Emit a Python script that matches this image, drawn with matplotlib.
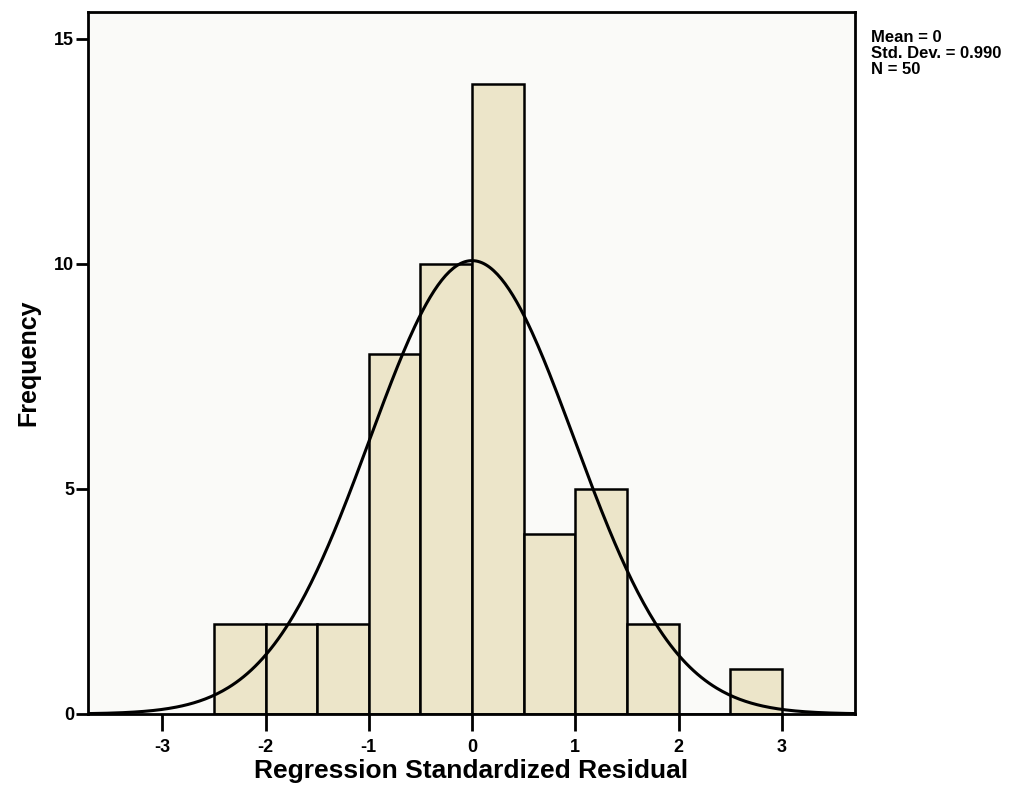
import numpy as np
import matplotlib
matplotlib.use('Agg')
import matplotlib.pyplot as plt

# histogram of residuals, bins of width 0.5
bin_edges = [-2.5, -2.0, -1.5, -1.0, -0.5, 0.0, 0.5, 1.0, 1.5, 2.0, 2.5, 3.0]
counts = [2, 2, 2, 8, 10, 14, 4, 5, 2, 0, 1]
mean = 0.0
std = 0.990
n = 50
xticks = [-3, -2, -1, 0, 1, 2, 3]
yticks = [0, 5, 10, 15]

plt.rcParams['font.family'] = ['Liberation Sans', 'DejaVu Sans']

fig = plt.figure(figsize=(10.29, 7.99), dpi=100)
ax = fig.add_axes([0.0855, 0.1064, 0.7455, 0.8786])
ax.set_facecolor('#fafaf8')

widths = np.diff(bin_edges)
ax.bar(bin_edges[:-1], counts, width=widths, align='edge', color='#ece5c9',
       edgecolor='black', linewidth=1.8)

# normal curve scaled to counts
bw = widths[0]
x = np.linspace(-3.72, 3.71, 400)
y = n * bw / (std * np.sqrt(2 * np.pi)) * np.exp(-0.5 * ((x - mean) / std) ** 2)
ax.plot(x, y, color='black', linewidth=2.2)

ax.set_xlim(-3.72, 3.71)
ax.set_ylim(0, 15.6)
ax.set_xticks(xticks)
ax.set_xticklabels(['%d' % t for t in xticks])
ax.set_yticks(yticks)
for s in ax.spines.values():
    s.set_linewidth(2)
ax.tick_params(axis='x', direction='out', length=12, width=2, labelsize=13, pad=6)
ax.tick_params(axis='y', direction='out', length=9, width=2, labelsize=13, pad=1)
for lab in ax.get_xticklabels() + ax.get_yticklabels():
    lab.set_fontweight('bold')

ax.set_xlabel('Regression Standardized Residual', fontsize=19, fontweight='bold', labelpad=2)
ax.set_ylabel('Frequency', fontsize=18, fontweight='bold', labelpad=10)

fig.text(0.846, 0.962, 'Mean = 0\nStd. Dev. = 0.990\nN = 50', fontsize=12,
         fontweight='bold', va='top', ha='left', linespacing=1.05)

fig.savefig('out.png', dpi=100)
